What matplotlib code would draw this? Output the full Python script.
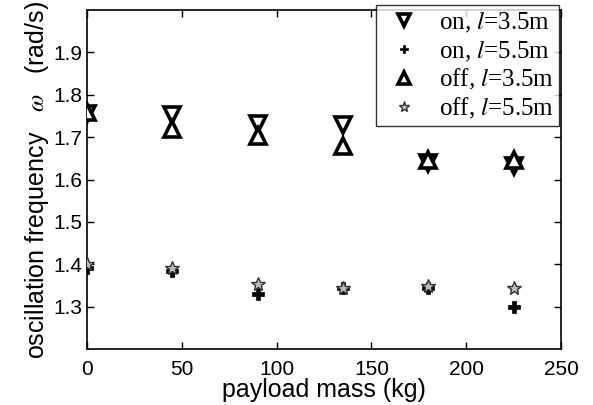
import matplotlib
matplotlib.use("Agg")
import matplotlib.pyplot as plt

mass = [0, 45, 90, 135, 180, 225]
on_35 = [1.755, 1.752, 1.732, 1.728, 1.640, 1.632]
on_55 = [1.390, 1.385, 1.329, 1.344, 1.345, 1.298]
off_35 = [1.760, 1.718, 1.702, 1.680, 1.645, 1.645]
off_55 = [1.400, 1.392, 1.353, 1.344, 1.348, 1.345]

xticks = [0, 50, 100, 150, 200, 250]
yticks = [1.3, 1.4, 1.5, 1.6, 1.7, 1.8, 1.9]

plt.rcParams['font.family'] = ['Liberation Sans', 'DejaVu Sans']
plt.rcParams['mathtext.fontset'] = 'stix'

fig = plt.figure(figsize=(5.93, 4.05), dpi=100)
ax = fig.add_axes([87/593, 1 - 349/405, (561-87)/593, (349-10)/405])

ax.plot(mass, on_35, linestyle='none', marker='v', markersize=11,
        markerfacecolor='white', markeredgecolor='black', markeredgewidth=2.6,
        label='on, $\\mathit{l}$=3.5m', zorder=3)
ax.plot(mass, on_55, linestyle='none', marker='P', markersize=8,
        markerfacecolor='black', markeredgecolor='black', markeredgewidth=0.5,
        label='on, $\\mathit{l}$=5.5m', zorder=3)
ax.plot(mass, off_35, linestyle='none', marker='^', markersize=11,
        markerfacecolor='white', markeredgecolor='black', markeredgewidth=2.6,
        label='off, $\\mathit{l}$=3.5m', zorder=3)
ax.plot(mass, off_55, linestyle='none', marker='*', markersize=10,
        markerfacecolor='#bbbbbb', markeredgecolor='#333333', markeredgewidth=1.0,
        label='off, $\\mathit{l}$=5.5m', zorder=4)

ax.set_xlim(0, 250)
ax.set_ylim(1.2, 2.0)
ax.set_xticks(xticks)
ax.set_yticks(yticks)
ax.set_yticklabels([f"{v:.1f}" for v in yticks])
ax.tick_params(direction='in', top=True, right=True, labelsize=15, length=5,
               width=1, pad=3)
ax.tick_params(axis='x', pad=8)
for s in ax.spines.values():
    s.set_linewidth(1.2)

ax.set_xlabel('payload mass (kg)', fontsize=18, labelpad=-1)
ax.set_ylabel('oscillation frequency   $\\omega$   (rad/s)', fontsize=18, labelpad=2)

leg = ax.legend(loc='upper right', bbox_to_anchor=(0.995, 1.016),
                prop={'family': 'Liberation Serif', 'size': 18},
                frameon=True, fancybox=False, edgecolor='black',
                borderpad=0.2, labelspacing=0.15, handletextpad=0.5,
                handlelength=1.8, borderaxespad=0.0, markerscale=0.8)
leg.get_frame().set_linewidth(1.0)

fig.savefig('out.png', dpi=100)
